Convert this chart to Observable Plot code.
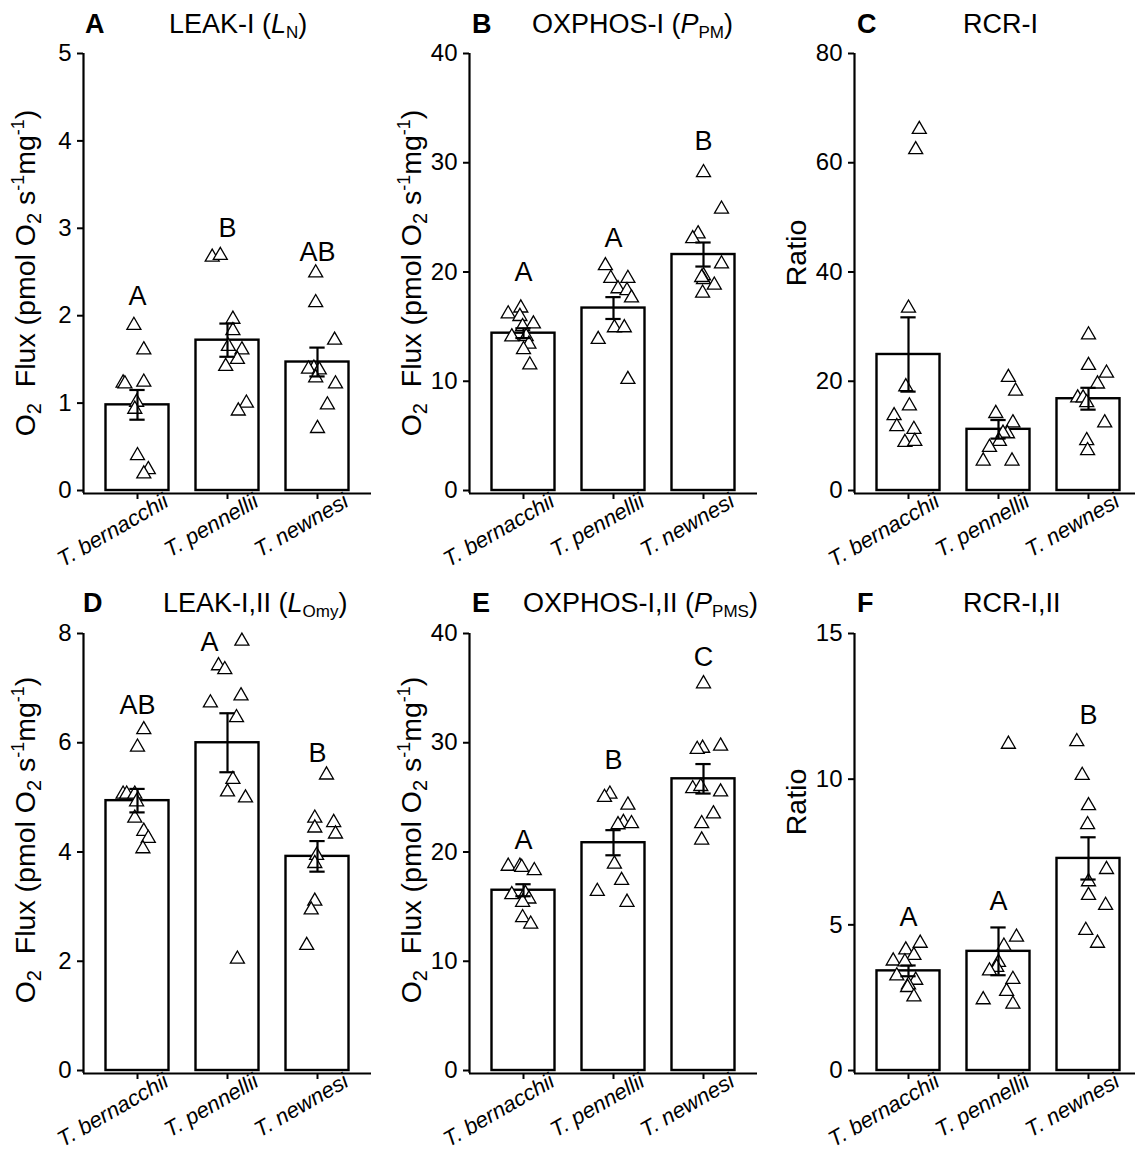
<!DOCTYPE html>
<html><head><meta charset="utf-8">
<script src="https://cdn.jsdelivr.net/npm/d3@7"></script>
<script src="https://cdn.jsdelivr.net/npm/@observablehq/plot@0.6"></script>
<style>
body{margin:0;background:#fff;font-family:"Liberation Sans",Arial,Helvetica,sans-serif;}
#root{position:relative;width:1135px;height:1156px;overflow:hidden;background:#fff;}
.panel{position:absolute;}
.panel svg{overflow:visible;max-width:none !important;}
#overlay{position:absolute;left:0;top:0;pointer-events:none;}
</style>
</head><body>
<div id="root"></div>
<script>
const species = ["T. bernacchii", "T. pennellii", "T. newnesi"];

// A: LEAK-I
const leakI = [[1.89,1.61,1.23,1.22,1.24,1.01,0.93,0.40,0.24,0.19],[2.67,2.69,1.96,1.83,1.65,1.61,1.50,1.42,1.00,0.91],[2.49,2.15,1.72,1.40,1.39,1.38,1.29,1.22,0.98,0.71]];
const leakIJitter = [[-0.04,0.07,-0.16,-0.14,0.07,-0.01,-0.03,0,0.12,0.07],[-0.17,-0.08,0.06,0.06,0.01,0.16,0.11,-0.02,0.21,0.12],[-0.02,-0.02,0.19,-0.04,-0.1,0.02,-0.02,0.2,0.11,0]];
const leakIMean = [0.98,1.72,1.47], leakISE = [0.17,0.19,0.165];
const leakILetters = ["A","B","AB"], leakILetterY = [2.22,3.0,2.73];

// B: OXPHOS-I
const oxI = [[16.71,16.17,15.93,15.25,15.0,14.07,14.1,13.4,12.9,11.5],[20.58,19.42,19.42,18.47,18.3,17.63,14.9,14.9,13.83,10.17],[29.1,25.76,23.5,23.05,20.75,19.66,19.3,18.8,18.07,19.5]];
const oxIJitter = [[-0.03,-0.17,-0.04,0.11,-0.01,-0.13,0.03,0.06,0,0.07],[-0.09,-0.03,0.16,0.05,0.15,0.2,0.01,0.12,-0.17,0.16],[0,0.2,-0.06,-0.12,0.2,0,0,0.12,-0.01,-0.02]];
const oxIMean = [14.4,16.7,21.6], oxISE = [0.45,1.0,1.1];
const oxILetters = ["A","A","B"], oxILetterY = [20.0,23.05,32.0];

// C: RCR-I
const rcrI = [[66.1,62.4,33.4,19.0,15.5,13.7,11.7,11.2,8.8,9.0],[20.7,18.2,14.1,12.4,10.4,10.5,9.0,7.9,5.4,5.4],[28.5,22.9,21.5,19.5,16.95,16.95,16.1,12.4,9.15,7.3]];
const rcrIJitter = [[0.12,0.08,0,-0.03,0.01,-0.16,-0.13,0.06,-0.04,0.07],[0.11,0.19,-0.03,0.16,0.1,0.05,0.01,-0.1,-0.17,0.15],[0,0,0.2,0.1,-0.12,-0.06,-0.02,0.18,-0.02,-0.01]];
const rcrIMean = [24.9,11.2,16.8], rcrISE = [6.8,1.7,2.0];
const rcrILetters = ["","",""], rcrILetterY = [0,0,0];

// D: LEAK-I,II
const leakII = [[6.24,5.92,5.06,5.06,5.06,4.92,4.62,4.38,4.25,4.06],[7.86,7.41,7.34,6.86,6.73,6.46,5.33,5.1,4.99,2.04],[5.41,4.62,4.54,4.44,4.33,3.94,3.79,3.10,2.94,2.29]];
const leakIIJitter = [[0.07,0,-0.16,-0.12,-0.03,-0.01,-0.03,0.07,0.12,0.06],[0.16,-0.1,-0.03,0.15,-0.19,0.1,0.06,0,0.2,0.11],[0.1,-0.03,0.18,-0.03,0.2,-0.01,-0.03,-0.03,-0.07,-0.12]];
const leakIIMean = [4.94,6.0,3.92], leakIISE = [0.215,0.54,0.28];
const leakIILetters = ["AB","A","B"], leakIILetterY = [6.68,7.83,5.81];

// E: OXPHOS-I,II
const oxII = [[18.7,18.7,18.6,18.3,16.1,16.2,15.7,15.4,14.0,13.4],[25.3,25.0,24.3,22.7,22.6,22.5,18.9,17.4,16.4,15.4],[35.4,29.7,29.5,29.4,25.8,26.0,25.5,23.5,22.6,21.1]];
const oxIIJitter = [[-0.17,-0.04,-0.02,0.12,-0.13,0.02,0.06,-0.01,-0.01,0.08],[-0.04,-0.1,0.16,0.11,0.2,0.05,0.01,0.09,-0.18,0.15],[0,0.19,-0.01,-0.07,-0.12,-0.03,0.19,0.11,-0.02,-0.02]];
const oxIIMean = [16.5,20.85,26.7], oxIISE = [0.55,1.15,1.35];
const oxIILetters = ["A","B","C"], oxIILetterY = [21.08,28.36,37.8];

// F: RCR-I,II
const rcrII = [[4.37,4.14,3.95,3.76,3.73,3.25,3.10,2.94,2.85,2.53],[11.2,4.58,4.27,3.71,3.54,3.42,3.13,2.72,2.43,2.28],[11.29,10.13,9.09,8.44,6.9,6.48,6.01,5.67,4.81,4.37]];
const rcrIIJitter = [[0.13,-0.03,0.06,-0.17,-0.04,-0.13,0.08,0,-0.01,0.06],[0.11,0.2,0.06,0,-0.02,-0.1,0.16,0.09,-0.17,0.16],[-0.13,-0.07,0,-0.01,0.2,0,0,0.19,-0.03,0.1]];
const rcrIIMean = [3.42,4.09,7.28], rcrIISE = [0.185,0.82,0.725];
const rcrIILetters = ["A","A","B"], rcrIILetterY = [5.25,5.82,12.2];

const letterDx = {D: [0,-0.2,0]};

const fluxLabel = 'O<tspan font-size="20" dy="6">2</tspan><tspan dy="-6" xml:space="preserve">  Flux (pmol O</tspan><tspan font-size="20" dy="6">2</tspan><tspan dy="-6"> s</tspan><tspan font-size="18" dy="-11">-1</tspan><tspan dy="11">mg</tspan><tspan font-size="18" dy="-11">-1</tspan><tspan dy="11">)</tspan>';

const panels = [
  {tag:"A", title:'LEAK-I (<tspan font-style="italic">L</tspan><tspan font-size="17" dy="5">N</tspan><tspan dy="-5">)</tspan>', titleX:169, ylab:fluxLabel, ylabY:273, max:5, step:1, values:leakI, jitter:leakIJitter, mean:leakIMean, se:leakISE, letters:leakILetters, letterY:leakILetterY, x0:83, row:0},
  {tag:"B", title:'OXPHOS-I (<tspan font-style="italic">P</tspan><tspan font-size="17" dy="5">PM</tspan><tspan dy="-5">)</tspan>', titleX:532, ylab:fluxLabel, ylabY:273, max:40, step:10, values:oxI, jitter:oxIJitter, mean:oxIMean, se:oxISE, letters:oxILetters, letterY:oxILetterY, x0:469, row:0},
  {tag:"C", title:'RCR-I', titleX:963, ylab:'Ratio', ylabY:253, max:80, step:20, values:rcrI, jitter:rcrIJitter, mean:rcrIMean, se:rcrISE, letters:rcrILetters, letterY:rcrILetterY, x0:854, row:0},
  {tag:"D", title:'LEAK-I,II (<tspan font-style="italic">L</tspan><tspan font-size="17" dy="5">Omy</tspan><tspan dy="-5">)</tspan>', titleX:163, ylab:fluxLabel, ylabY:840, max:8, step:2, values:leakII, jitter:leakIIJitter, mean:leakIIMean, se:leakIISE, letters:leakIILetters, letterY:leakIILetterY, x0:83, row:1},
  {tag:"E", title:'OXPHOS-I,II (<tspan font-style="italic">P</tspan><tspan font-size="17" dy="5">PMS</tspan><tspan dy="-5">)</tspan>', titleX:523, ylab:fluxLabel, ylabY:840, max:40, step:10, values:oxII, jitter:oxIIJitter, mean:oxIIMean, se:oxIISE, letters:oxIILetters, letterY:oxIILetterY, x0:469, row:1},
  {tag:"F", title:'RCR-I,II', titleX:963, ylab:'Ratio', ylabY:802, max:15, step:5, values:rcrII, jitter:rcrIIJitter, mean:rcrIIMean, se:rcrIISE, letters:rcrIILetters, letterY:rcrIILetterY, x0:854, row:1}
];

const rowTop = [53, 633];
const tagX = {A:85, B:472, C:857, D:83, E:472, F:857};
const FONT = '"Liberation Sans", Arial, Helvetica, sans-serif';
const root = document.getElementById("root");
const ML = 70, MT = 20, PH = 440, MB = 100, PW = 288, MR = 10;

let overlay = `<svg id="overlay" width="1135" height="1156" font-family='${FONT}'>`;

panels.forEach(p => {
  const pts = [];
  p.values.forEach((arr, i) => arr.forEach((v, j) => pts.push({x: i + p.jitter[i][j], v})));
  const dxs = letterDx[p.tag] || [0,0,0];
  const bars = species.map((s, i) => ({i, mean: p.mean[i], lo: p.mean[i] - p.se[i], hi: p.mean[i] + p.se[i], letter: p.letters[i], ly: p.letterY[i], lx: i + dxs[i]}));
  const lo = -p.max * 3 / 437;
  const W = ML + PW + MR, H = MT + PH + MB;
  const chart = Plot.plot({
    width: W, height: H,
    marginLeft: ML, marginRight: MR, marginTop: MT, marginBottom: MB,
    style: {fontFamily: FONT, background: "transparent", overflow: "visible", color: "black", maxWidth: "none"},
    x: {domain: [-0.6, 2.6], axis: null},
    y: {domain: [lo, p.max], axis: null},
    marks: [
      Plot.rect(bars, {x1: d => d.i - 0.35, x2: d => d.i + 0.35, y1: 0, y2: "mean", fill: "white", stroke: "black", strokeWidth: 2.4}),
      Plot.dot(pts, {x: "x", y: "v", symbol: "triangle", r: 5.2, fill: "white", stroke: "black", strokeWidth: 1.3}),
      Plot.ruleX(bars, {x: "i", y1: "lo", y2: "hi", stroke: "black", strokeWidth: 2.2}),
      Plot.ruleY(bars, {y: "hi", x1: d => d.i - 0.085, x2: d => d.i + 0.085, stroke: "black", strokeWidth: 2.2}),
      Plot.ruleY(bars, {y: "lo", x1: d => d.i - 0.085, x2: d => d.i + 0.085, stroke: "black", strokeWidth: 2.2}),
      Plot.text(bars.filter(d => d.letter), {x: "lx", y: "ly", text: "letter", fontSize: 27, fill: "black"}),
      // axis lines
      Plot.ruleX([-0.6], {y1: lo, y2: p.max, stroke: "black", strokeWidth: 2.2}),
      Plot.ruleY([lo], {x1: -0.6, x2: 2.6, stroke: "black", strokeWidth: 2.2}),
      Plot.axisY({ticks: d3.range(0, p.max + 1e-9, p.step), tickFormat: d => String(d), tickSize: 6, tickPadding: 6, fontSize: 24, strokeWidth: 2, label: null, stroke: "black", fill: "black"}),
      Plot.axisX({ticks: [0, 1, 2], tickFormat: () => "", tickSize: 6, strokeWidth: 2, label: null, stroke: "black"}),
      Plot.axisX({ticks: [0, 1, 2], tickFormat: i => species[i], tickRotate: -30, tickSize: 0, tickPadding: 8, fontSize: 22, fontStyle: "italic", label: null, fill: "black", dx: 29, dy: -2})
    ]
  });
  const div = document.createElement("div");
  div.className = "panel";
  div.style.left = (p.x0 - ML) + "px";
  div.style.top = (rowTop[p.row] - MT) + "px";
  div.style.width = W + "px";
  div.style.height = H + "px";
  div.appendChild(chart);
  root.appendChild(div);

  const base = p.row === 0 ? 33 : 612;
  overlay += `<text x="${tagX[p.tag]}" y="${base}" font-size="27" font-weight="bold">${p.tag}</text>`;
  overlay += `<text x="${p.titleX}" y="${base}" font-size="27">${p.title}</text>`;
  const cx = p.x0 - 58;
  overlay += `<text transform="translate(${cx},${p.ylabY}) rotate(-90)" text-anchor="middle" dy="0.35em" font-size="28.5">${p.ylab}</text>`;
});
overlay += `</svg>`;
root.insertAdjacentHTML("beforeend", overlay);
</script>
</body></html>
